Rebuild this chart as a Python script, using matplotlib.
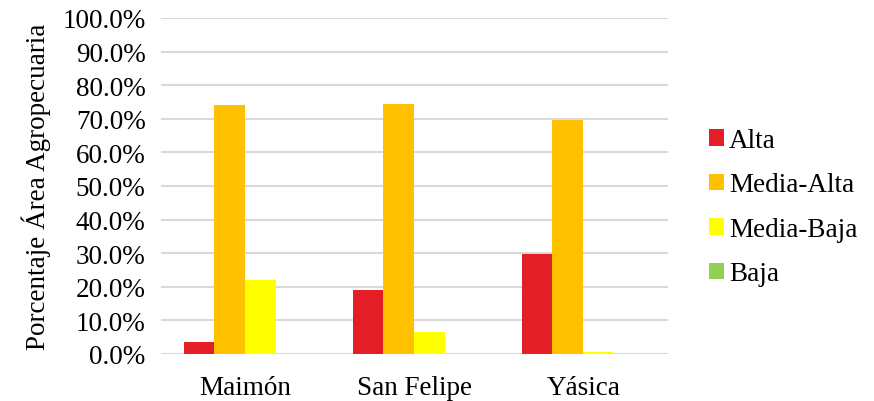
import numpy as np
import matplotlib.pyplot as plt
from matplotlib.ticker import PercentFormatter

plt.rcParams['font.family'] = ['Liberation Serif', 'DejaVu Serif']

sitios = ['Maimón', 'San Felipe', 'Yásica']
clases = ['Alta', 'Media-Alta', 'Media-Baja', 'Baja']
alta = [3.5, 18.9, 29.6]
media_alta = [74.1, 74.5, 69.7]
media_baja = [22.1, 6.4, 0.5]
baja = [0.0, 0.0, 0.0]
colores = ['#E31E26', '#FFC000', '#FFFF00', '#92D050']

series = [alta, media_alta, media_baja, baja]
fs = 19.5

fig = plt.figure(figsize=(8.74, 4.02), dpi=100)
ax = fig.add_axes([0.184, 0.117, 0.58, 0.836])

x = np.arange(len(sitios))
w = 0.1825
for i, (vals, nombre, c) in enumerate(zip(series, clases, colores)):
    ax.bar(x + (i - 1.5) * w, vals, width=w, color=c, label=nombre, zorder=3)

ax.set_xlim(-0.5, 2.5)
ax.set_ylim(0, 100)
ax.set_yticks(np.arange(0, 101, 10))
ax.yaxis.set_major_formatter(PercentFormatter(decimals=1))
ax.set_xticks(x)
ax.set_xticklabels(sitios)
ax.tick_params(axis='both', length=0, labelsize=fs)
ax.tick_params(axis='x', pad=15)
ax.tick_params(axis='y', pad=11)
ax.grid(axis='y', color='#D9D9D9', linewidth=1.5, zorder=0)
for s in ax.spines.values():
    s.set_visible(False)

ax.set_ylabel('Porcentaje Área Agropecuaria', fontsize=fs, labelpad=8)

fig.legend(loc='center left', bbox_to_anchor=(0.811, 0.482), frameon=False,
           fontsize=fs, handlelength=0.55, handleheight=0.55, handletextpad=0.2,
           labelspacing=0.72, borderaxespad=0, borderpad=0)

fig.savefig('out.png', dpi=100)
